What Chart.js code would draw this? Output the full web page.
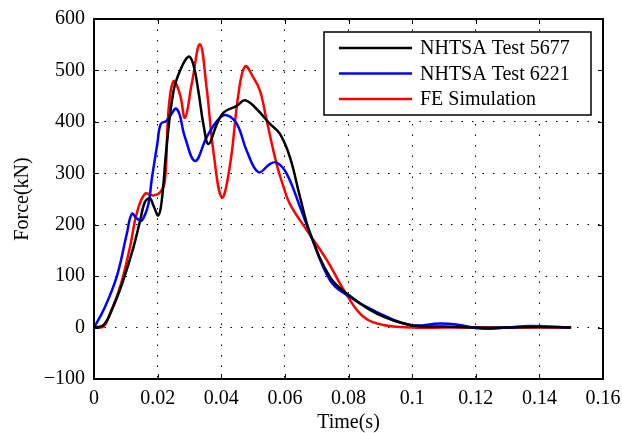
<!DOCTYPE html>
<html>
<head>
<meta charset="utf-8">
<script src="https://cdn.jsdelivr.net/npm/chart.js@4"></script>
<style>
  body { margin: 0; background: #fff; }
  canvas { display: block; }
</style>
</head>
<body>
<canvas id="myChart" width="622" height="433"></canvas>
<script>
// values
var seriesNames = ['NHTSA Test 5677', 'NHTSA Test 6221', 'FE Simulation']
var seriesColors = ['#000000', '#0000ff', '#ff0000']

var time5677 = [0, 0.003, 0.006, 0.0092, 0.0124, 0.0145, 0.016, 0.0176, 0.0187, 0.0202, 0.0213, 0.0229, 0.025, 0.027, 0.0297, 0.0312, 0.0328, 0.0344, 0.036, 0.0386, 0.0407, 0.0449, 0.0475, 0.0511, 0.0553, 0.0585, 0.0616, 0.0648, 0.068, 0.0742, 0.0795, 0.0889, 0.0994, 0.11, 0.12, 0.13, 0.14, 0.15]
var force5677 = [0, 5, 40, 92, 156, 208, 244, 251, 237, 218, 247, 357, 460, 499, 527, 512, 460, 395, 357, 395, 418, 431, 442, 425, 396, 376, 331, 253, 182, 98, 66, 27, 5, 2, 0, 0, 1, 0]

var time6221 = [0, 0.003, 0.0071, 0.0103, 0.0119, 0.0135, 0.015, 0.0171, 0.0181, 0.0199, 0.021, 0.0228, 0.026, 0.0286, 0.0318, 0.0354, 0.0391, 0.0417, 0.0449, 0.048, 0.0517, 0.0553, 0.0574, 0.0606, 0.0648, 0.068, 0.0742, 0.0795, 0.0889, 0.0994, 0.1088, 0.115, 0.1214, 0.13, 0.137, 0.1497]
var force6221 = [0, 34, 98, 182, 221, 212, 208, 240, 286, 357, 396, 402, 425, 370, 324, 370, 405, 413, 396, 344, 302, 318, 321, 299, 234, 182, 92, 63, 30, 5, 8, 5, -2, 0, 3, 0]

var timeFE = [0, 0.003, 0.005, 0.0082, 0.0113, 0.0134, 0.016, 0.0186, 0.0208, 0.0223, 0.0234, 0.025, 0.027, 0.0286, 0.0307, 0.0333, 0.0354, 0.0375, 0.0402, 0.0428, 0.0454, 0.0475, 0.0501, 0.0522, 0.0543, 0.0574, 0.0595, 0.0616, 0.0669, 0.0732, 0.0795, 0.0847, 0.091, 0.1, 0.11, 0.12, 0.13, 0.14, 0.15]
var forceFE = [0, 2, 27, 79, 156, 221, 260, 257, 263, 286, 421, 479, 454, 408, 473, 551, 466, 344, 253, 318, 454, 508, 486, 460, 402, 318, 275, 240, 189, 131, 63, 21, 5, 0, 0, 0, 0, 0, 0]

var xTicks = [0, 0.02, 0.04, 0.06, 0.08, 0.1, 0.12, 0.14, 0.16]
var yTicks = [-100, 0, 100, 200, 300, 400, 500, 600]

function pts(xs, ys) {
  return xs.map(function (x, i) { return { x: x, y: ys[i] } })
}

var FONT = 'Liberation Serif, Times New Roman, serif'

// MATLAB style box, inward ticks and legend
var matlabBox = {
  id: 'matlabBox',
  afterDatasetsDraw: function (chart) {
    var c = chart.ctx, a = chart.chartArea
    var xs = chart.scales.x, ys = chart.scales.y
    c.save()
    c.strokeStyle = '#000'
    c.lineWidth = 1
    xTicks.forEach(function (v) {
      var px = Math.round(xs.getPixelForValue(v)) + 0.5
      c.beginPath()
      c.moveTo(px, a.bottom); c.lineTo(px, a.bottom - 5)
      c.moveTo(px, a.top); c.lineTo(px, a.top + 5)
      c.stroke()
    })
    yTicks.forEach(function (v) {
      var py = Math.round(ys.getPixelForValue(v)) + 0.5
      c.beginPath()
      c.moveTo(a.left, py); c.lineTo(a.left + 5, py)
      c.moveTo(a.right, py); c.lineTo(a.right - 5, py)
      c.stroke()
    })
    c.lineWidth = 2
    c.strokeRect(a.left, a.top, a.right - a.left, a.bottom - a.top)

    // legend
    var bx = 324, by = 32, bw = 267, bh = 83
    c.fillStyle = '#fff'
    c.fillRect(bx, by, bw, bh)
    c.lineWidth = 1.5
    c.strokeRect(bx, by, bw, bh)
    c.font = '20px ' + FONT
    c.textBaseline = 'middle'
    c.textAlign = 'left'
    seriesNames.forEach(function (name, i) {
      var ly = 48 + i * 25.5
      c.strokeStyle = seriesColors[i]
      c.lineWidth = 2.5
      c.beginPath()
      c.moveTo(339, ly); c.lineTo(412, ly)
      c.stroke()
      c.fillStyle = '#000'
      c.fillText(name, 420, ly + 1)
    })
    c.restore()
  }
}

var ctx = document.getElementById('myChart').getContext('2d')
var myChart = new Chart(ctx, {
  type: 'line',
  data: {
    datasets: [
      { label: seriesNames[0], data: pts(time5677, force5677) },
      { label: seriesNames[1], data: pts(time6221, force6221) },
      { label: seriesNames[2], data: pts(timeFE, forceFE) }
    ].map(function (d, i) {
      d.borderColor = seriesColors[i]
      d.borderWidth = 2.5
      d.pointRadius = 0
      d.fill = false
      d.tension = 0.4
      return d
    })
  },
  options: {
    responsive: false,
    animation: false,
    layout: { padding: { top: 19, right: 19, left: 0, bottom: 0 } },
    plugins: { legend: { display: false }, tooltip: { enabled: false } },
    scales: {
      x: {
        type: 'linear',
        min: 0,
        max: 0.16,
        afterBuildTicks: function (s) { s.ticks = xTicks.map(function (v) { return { value: v } }) },
        afterFit: function (s) { s.height = 54; s.paddingLeft = 0; s.paddingRight = 0 },
        ticks: {
          color: '#000',
          padding: 8,
          maxRotation: 0,
          font: { family: FONT, size: 20 },
          callback: function (v) { return String(+v.toFixed(2)) }
        },
        grid: { color: '#000', lineWidth: 1, drawTicks: false },
        border: { display: false, dash: [1.5, 9] },
        title: {
          display: true, text: 'Time(s)', color: '#000',
          font: { family: FONT, size: 20, lineHeight: 1 },
          padding: { top: 0, bottom: 0 }
        }
      },
      y: {
        min: -100,
        max: 600,
        afterBuildTicks: function (s) { s.ticks = yTicks.map(function (v) { return { value: v } }) },
        afterFit: function (s) { s.width = 94; s.paddingTop = 0; s.paddingBottom = 0 },
        ticks: {
          color: '#000',
          padding: 9,
          font: { family: FONT, size: 20 },
          callback: function (v) { return v < 0 ? '\u2212' + Math.abs(v) : String(v) }
        },
        grid: { color: '#000', lineWidth: 1, drawTicks: false },
        border: { display: false, dash: [1.5, 9] },
        title: {
          display: true, text: 'Force(kN)', color: '#000',
          font: { family: FONT, size: 20, lineHeight: 1.2 },
          padding: { top: 11, bottom: 0 }
        }
      }
    }
  },
  plugins: [matlabBox]
})
</script>
</body>
</html>
